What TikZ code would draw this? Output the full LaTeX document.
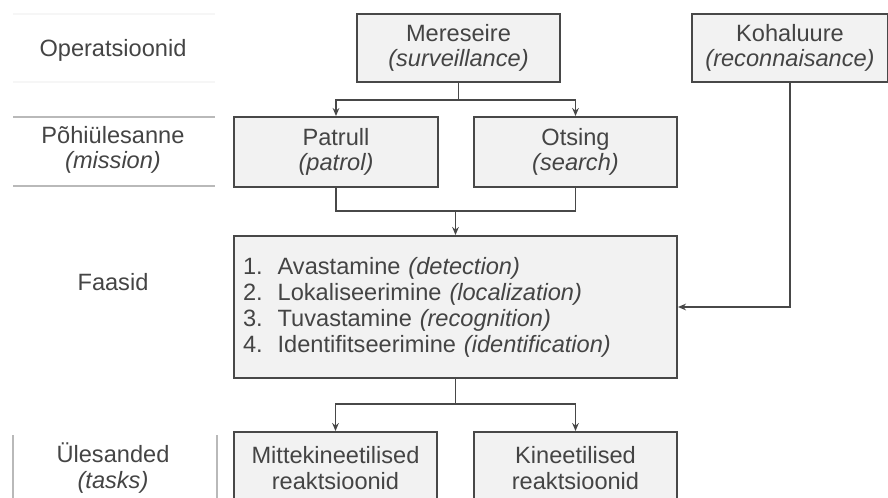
\documentclass[tikz,border=0pt]{standalone}
\usepackage{fontspec}
\setmainfont{Liberation Sans}
\usepackage{tikz}
\usetikzlibrary{arrows.meta}

\definecolor{boxfill}{HTML}{F2F2F2}
\definecolor{boxline}{HTML}{484848}
\definecolor{txt}{HTML}{444444}

\begin{document}
\begin{tikzpicture}[->, >={Stealth[length=6pt,width=5pt]}, x=0.75pt, y=-0.75pt]
\tikzstyle{box}=[draw=boxline, fill=boxfill, line width=1.5pt, text=txt, align=center, inner sep=0pt, font=\fontsize{17.7}{19}\selectfont]
\tikzstyle{rowlabel}=[text=txt, align=center, font=\fontsize{17.7}{19}\selectfont]
\tikzstyle{link}=[draw=boxline, line width=1.2pt]
\tikzstyle{rule}=[-, draw=gray!55, line width=0.8pt]

\useasboundingbox (0,0) rectangle (888,498);
\clip (0,0) rectangle (888,498);

% left column
\node[rowlabel]   (L1) at (113,50)  {Operatsioonid};
\node[rowlabel]   (L2) at (113,150) {Põhiülesanne\\\textit{(mission)}};
\node[rowlabel]   (L3) at (113,282) {Faasid};
\node[rowlabel]   (L4) at (113,468) {Ülesanded\\\textit{(tasks)}};
\draw[rule, draw=gray!7] (13,14) -- (215,14);
\draw[rule, draw=gray!7] (13,82) -- (215,82);
\draw[rule] (13,117) -- (215,117);
\draw[rule] (13,186) -- (215,186);
\draw[rule] (13,435) -- (13,498);
\draw[rule] (217,435) -- (217,498);

% boxes
\node[box, minimum width=152.25pt, minimum height=51pt]   (M) at (458.5,48)  {Mereseire\\\textit{(surveillance)}};
\node[box, minimum width=147pt, minimum height=51pt]      (K) at (790,48)    {Kohaluure\\\textit{(reconnaisance)}};
\node[box, minimum width=153pt, minimum height=52.5pt]    (P) at (336,152)   {Patrull\\\textit{(patrol)}};
\node[box, minimum width=152.25pt, minimum height=52.5pt] (O) at (575.5,152) {Otsing\\\textit{(search)}};
\node[box, text width=318.75pt, inner sep=6.75pt, minimum height=106.5pt, align=left, font=\fontsize{17.7}{19.5}\selectfont] (F) at (455.5,307)
  {\makebox[26pt][l]{1.}Avastamine \textit{(detection)}\\
   \makebox[26pt][l]{2.}Lokaliseerimine \textit{(localization)}\\
   \makebox[26pt][l]{3.}Tuvastamine \textit{(recognition)}\\
   \makebox[26pt][l]{4.}Identifitseerimine \textit{(identification)}};
\node[box, minimum width=152.25pt, minimum height=54pt]   (N) at (335.5,468) {Mittekineetilised\\reaktsioonid};
\node[box, minimum width=152.25pt, minimum height=54pt]   (T) at (575.5,468) {Kineetilised\\reaktsioonid};

\coordinate (j0) at (458.5,100);
\coordinate (j1) at (455.5,211);
\coordinate (j2) at (455.5,404);

% connectors
\draw[link, -] (M.south) -- (j0);
\draw[link] (j0) -| (P.north);
\draw[link] (j0) -| (O.north);
\draw[link, -] (P.south) |- (j1);
\draw[link, -] (O.south) |- (j1);
\draw[link] (j1) -- (F.north);
\draw[link] (K.south) |- (F.east);
\draw[link, -] (F.south) -- (j2);
\draw[link] (j2) -| (N.north);
\draw[link] (j2) -| (T.north);

\end{tikzpicture}
\end{document}
